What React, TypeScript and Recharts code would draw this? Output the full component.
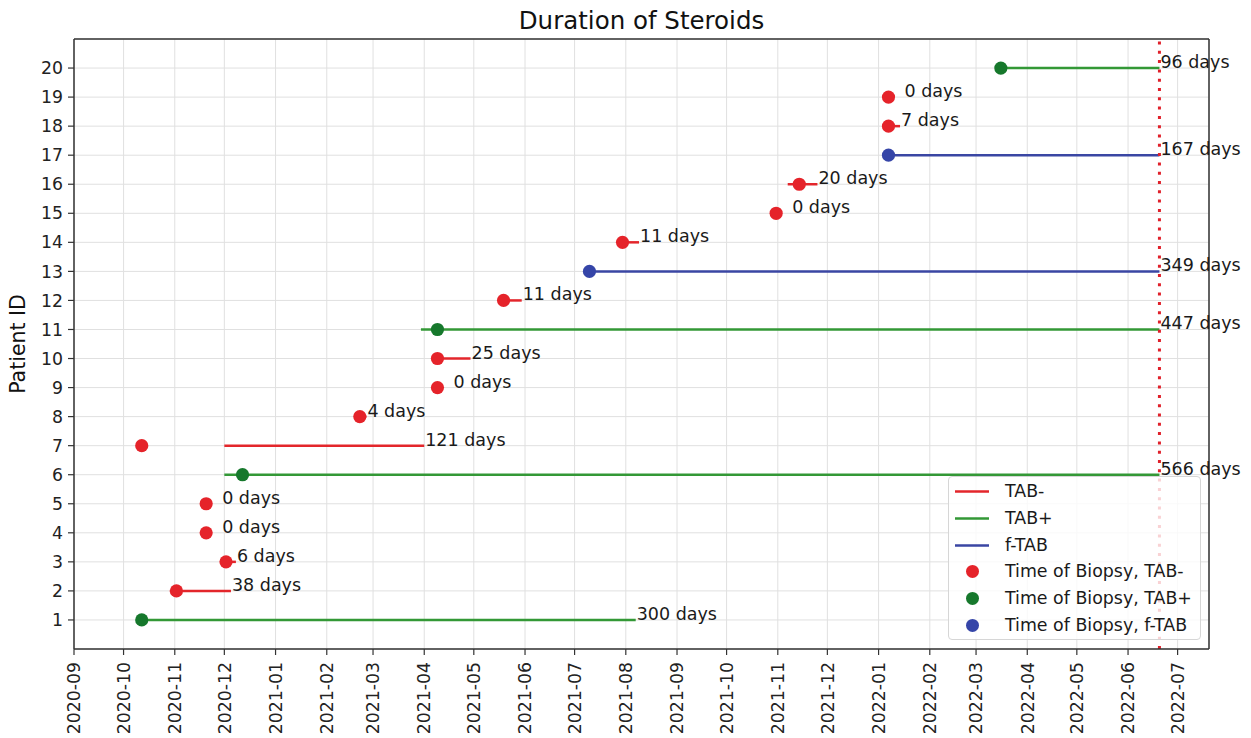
import React from 'react';
import {
  ComposedChart,
  Line,
  Scatter,
  XAxis,
  YAxis,
  CartesianGrid,
  ReferenceLine,
  Customized,
} from 'recharts';

// ---------- data ----------
const patientIds = [1, 2, 3, 4, 5, 6, 7, 8, 9, 10, 11, 12, 13, 14, 15, 16, 17, 18, 19, 20];
const groups = [
  'TAB+', 'TAB-', 'TAB-', 'TAB-', 'TAB-', 'TAB+', 'TAB-', 'TAB-', 'TAB-', 'TAB-',
  'TAB+', 'TAB-', 'f-TAB', 'TAB-', 'TAB-', 'TAB-', 'f-TAB', 'TAB-', 'TAB-', 'TAB+',
];
const biopsyDates = [
  '2020-10-12', '2020-11-02', '2020-12-02', '2020-11-20', '2020-11-20',
  '2020-12-12', '2020-10-12', '2021-02-21', '2021-04-09', '2021-04-09',
  '2021-04-09', '2021-05-19', '2021-07-10', '2021-07-30', '2021-10-31',
  '2021-11-14', '2022-01-07', '2022-01-07', '2022-01-07', '2022-03-16',
];
const steroidStart = [
  '2020-10-12', '2020-10-29', '2020-12-02', '2020-11-20', '2020-11-20',
  '2020-12-01', '2020-12-01', '2021-02-21', '2021-04-09', '2021-04-09',
  '2021-03-30', '2021-05-19', '2021-07-10', '2021-07-30', '2021-10-31',
  '2021-11-07', '2022-01-07', '2022-01-07', '2022-01-07', '2022-03-16',
];
const steroidEnd = [
  '2021-08-07', '2020-12-05', '2020-12-08', '2020-11-20', '2020-11-20',
  '2022-06-20', '2021-04-01', '2021-02-25', '2021-04-09', '2021-04-29',
  '2022-06-20', '2021-05-30', '2022-06-20', '2021-08-09', '2021-10-31',
  '2021-11-25', '2022-06-20', '2022-01-14', '2022-01-07', '2022-06-20',
];
const durationDays = [300, 38, 6, 0, 0, 566, 121, 4, 0, 25, 447, 11, 349, 11, 0, 20, 167, 7, 0, 96];

const groupNames = ['TAB-', 'TAB+', 'f-TAB'];
const biopsyLabels = ['Time of Biopsy, TAB-', 'Time of Biopsy, TAB+', 'Time of Biopsy, f-TAB'];
const lineColors = ['#e3262b', '#339836', '#3a46a3'];
const dotColors = ['#e5232a', '#16782c', '#3545a8'];

const monthTicks = [
  '2020-09', '2020-10', '2020-11', '2020-12', '2021-01', '2021-02', '2021-03', '2021-04',
  '2021-05', '2021-06', '2021-07', '2021-08', '2021-09', '2021-10', '2021-11', '2021-12',
  '2022-01', '2022-02', '2022-03', '2022-04', '2022-05', '2022-06', '2022-07',
];
const yTicks = [1, 2, 3, 4, 5, 6, 7, 8, 9, 10, 11, 12, 13, 14, 15, 16, 17, 18, 19, 20];
const cutoffDate = '2022-06-20';
const xDomainDates = ['2020-09-01', '2022-07-20'];
const yDomain = [0, 21];

// ---------- helpers ----------
const toT = (s: string) => {
  const [y, m, d] = s.split('-').map(Number);
  return Date.UTC(y, m - 1, d || 1);
};
const tickValues = monthTicks.map((m) => toT(m + '-01'));
const xDomain = [toT(xDomainDates[0]), toT(xDomainDates[1])];
const FONT = "'DejaVu Sans', sans-serif";

const XTick = (props: any) => {
  const { x, y, payload } = props;
  const idx = tickValues.indexOf(payload.value);
  const label = idx >= 0 ? monthTicks[idx] : '';
  return (
    <g transform={`translate(${x},${y})`}>
      <text
        x={-5}
        y={0}
        dy="0.36em"
        transform="rotate(-90)"
        textAnchor="end"
        fontSize={17.3}
        fontFamily={FONT}
        fill="#222"
      >
        {label}
      </text>
    </g>
  );
};

const makeLabel = (i: number) => (p: any) => {
  if (p.index !== 1) return null;
  const days = durationDays[i];
  const dx = days === 0 ? 16 : 1;
  return (
    <text
      key={`lab-${i}`}
      x={p.x + dx}
      y={p.y}
      fontSize={17.5}
      fontFamily={FONT}
      fill="#1a1a1a"
      textAnchor="start"
    >
      {`${days} days`}
    </text>
  );
};

const TitleAndYLabel = () => (
  <g>
    <text x={641.5} y={28.5} textAnchor="middle" fontSize={24.5} fontFamily={FONT} fill="#111">
      Duration of Steroids
    </text>
    <text
      x={0}
      y={0}
      transform="translate(25,344) rotate(-90)"
      textAnchor="middle"
      fontSize={20.5}
      fontFamily={FONT}
      fill="#111"
    >
      Patient ID
    </text>
  </g>
);

const Legend = () => {
  const rowTop = (i: number) => 1 + i * 26.8;
  return (
    <div
      style={{
        position: 'absolute',
        left: 948,
        top: 476,
        width: 253,
        height: 164,
        border: '1px solid #d6d6d6',
        borderRadius: 4,
        background: 'rgba(255,255,255,0.8)',
        boxSizing: 'border-box',
        fontFamily: FONT,
        fontSize: 17.4,
        color: '#1a1a1a',
      }}
    >
      {groupNames.map((g, i) => (
        <div key={g} style={{ position: 'absolute', left: 0, top: rowTop(i), height: 26.8, width: 250 }}>
          <svg width={50} height={26.8} style={{ position: 'absolute', left: 0, top: 0 }}>
            <line x1={6} x2={40} y1={13.4} y2={13.4} stroke={lineColors[i]} strokeWidth={2.5} />
          </svg>
          <span style={{ position: 'absolute', left: 56, top: 0, lineHeight: '26.8px', whiteSpace: 'nowrap' }}>{g}</span>
        </div>
      ))}
      {biopsyLabels.map((g, i) => (
        <div key={g} style={{ position: 'absolute', left: 0, top: rowTop(i + 3), height: 26.8, width: 250 }}>
          <svg width={50} height={26.8} style={{ position: 'absolute', left: 0, top: 0 }}>
            <circle cx={23.5} cy={13.4} r={6.5} fill={dotColors[i]} />
          </svg>
          <span style={{ position: 'absolute', left: 56, top: 0, lineHeight: '26.8px', whiteSpace: 'nowrap' }}>{g}</span>
        </div>
      ))}
    </div>
  );
};

export default function App() {
  const lineSeries = patientIds.map((id, i) => {
    const gi = groupNames.indexOf(groups[i]);
    return (
      <Line
        key={`line-${id}`}
        data={[
          { x: toT(steroidStart[i]), y: id },
          { x: toT(steroidEnd[i]), y: id },
        ]}
        dataKey="y"
        stroke={lineColors[gi]}
        strokeWidth={2.5}
        dot={false}
        activeDot={false}
        isAnimationActive={false}
        label={makeLabel(i)}
      />
    );
  });

  const scatterSeries = groupNames.map((g, gi) => {
    const pts = patientIds
      .map((id, i) => ({ id, i }))
      .filter((o) => groups[o.i] === g)
      .map((o) => ({ x: toT(biopsyDates[o.i]), y: o.id }));
    return (
      <Scatter
        key={`sc-${g}`}
        data={pts}
        dataKey="y"
        isAnimationActive={false}
        shape={(p: any) => <circle cx={p.cx} cy={p.cy} r={6.6} fill={dotColors[gi]} />}
      />
    );
  });

  return (
    <div style={{ position: 'absolute', left: 0, top: 0, width: 1251, height: 738, background: '#fff' }}>
      <ComposedChart width={1251} height={738} margin={{ top: 39, right: 42, bottom: 0, left: 33 }}>
        <CartesianGrid stroke="#e0e0e0" strokeWidth={1} />
        <XAxis
          dataKey="x"
          type="number"
          domain={xDomain}
          ticks={tickValues}
          interval={0}
          tick={<XTick />}
          tickSize={6}
          height={89}
          stroke="#333"
          strokeWidth={1.5}
          tickLine={{ stroke: '#333', strokeWidth: 1.2 }}
        />
        <YAxis
          type="number"
          domain={yDomain}
          ticks={yTicks}
          interval={0}
          width={41}
          tickSize={6}
          tickMargin={5}
          stroke="#333"
          strokeWidth={1.5}
          tick={{ fontSize: 17.3, fontFamily: FONT, fill: '#222' }}
          tickLine={{ stroke: '#333', strokeWidth: 1.2 }}
        />
        <ReferenceLine y={yDomain[1]} stroke="#333" strokeWidth={1.5} />
        <ReferenceLine x={xDomain[1]} stroke="#333" strokeWidth={1.5} />
        {lineSeries}
        {scatterSeries}
        <ReferenceLine x={toT(cutoffDate)} stroke="#e0202a" strokeWidth={3} strokeDasharray="3 6.3" />
        <Customized component={TitleAndYLabel} />
      </ComposedChart>
      <Legend />
    </div>
  );
}
